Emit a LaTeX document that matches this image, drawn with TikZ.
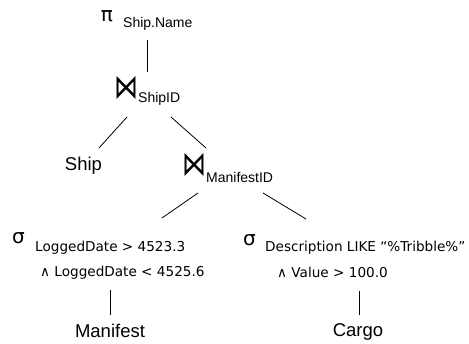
\documentclass[tikz,border=0pt]{standalone}
\usepackage{graphicx}
\usepackage{fontspec}
\setmainfont{Liberation Sans}
\newfontfamily\dv{DejaVu Sans}
\newcommand{\jointall}{\scalebox{1}[1.4]{⋈}}
\begin{document}
\begin{tikzpicture}[x=1pt,y=-1pt,
  sym/.style={inner sep=0pt, anchor=center, font=\dv\fontsize{20}{20}\selectfont},
  jn/.style={inner sep=0pt, anchor=center, font=\dv\fontsize{24}{24}\selectfont},
  sub/.style={inner sep=0pt, anchor=base west, font=\fontsize{14}{14}\selectfont},
  cond/.style={inner sep=0pt, anchor=base west, font=\dv\fontsize{13.6}{14}\selectfont},
  mainlbl/.style={inner sep=0pt, anchor=base, font=\fontsize{18.5}{18.5}\selectfont},
  edge/.style={line width=0.8pt, black}]
\useasboundingbox (0,0) rectangle (469,344);
\node[sym] (pi) at (107,16) {π};
\node[sub] (pisub) at (123,28) {Ship.Name};
\node[jn] (j1) at (126,87.5) {\jointall};
\node[sub] (j1sub) at (138,103) {ShipID};
\node[mainlbl] (ship) at (83.5,171) {Ship};
\node[jn] (j2) at (194.5,164.5) {\jointall};
\node[sub] (j2sub) at (206,183) {ManifestID};
\node[sym] (s1) at (18.5,238) {σ};
\node[cond] (s1a) at (35,252) {LoggedDate > 4523.3};
\node[cond] (s1b) at (40,277) {∧ LoggedDate < 4525.6};
\node[mainlbl] (manifest) at (110,338) {Manifest};
\node[sym] (s2) at (249.5,240) {σ};
\node[cond] (s2a) at (265,252) {Description LIKE “\%Tribble\%”};
\node[cond] (s2b) at (277,278) {∧ Value > 100.0};
\node[mainlbl] (cargo) at (358,337) {Cargo};
\coordinate (c1a) at (147,40); \coordinate (c1b) at (147,72);
\coordinate (c2a) at (127,117); \coordinate (c2b) at (99,148);
\coordinate (c3a) at (171,117); \coordinate (c3b) at (206,148);
\coordinate (c4a) at (198,193); \coordinate (c4b) at (162,218);
\coordinate (c5a) at (263,193); \coordinate (c5b) at (306,219);
\coordinate (c6a) at (110,290); \coordinate (c6b) at (110,315);
\coordinate (c7a) at (359,291); \coordinate (c7b) at (359,315);
\draw[edge] (c1a) -- (c1b);
\draw[edge] (c2a) -- (c2b);
\draw[edge] (c3a) -- (c3b);
\draw[edge] (c4a) -- (c4b);
\draw[edge] (c5a) -- (c5b);
\draw[edge] (c6a) -- (c6b);
\draw[edge] (c7a) -- (c7b);
\end{tikzpicture}
\end{document}
